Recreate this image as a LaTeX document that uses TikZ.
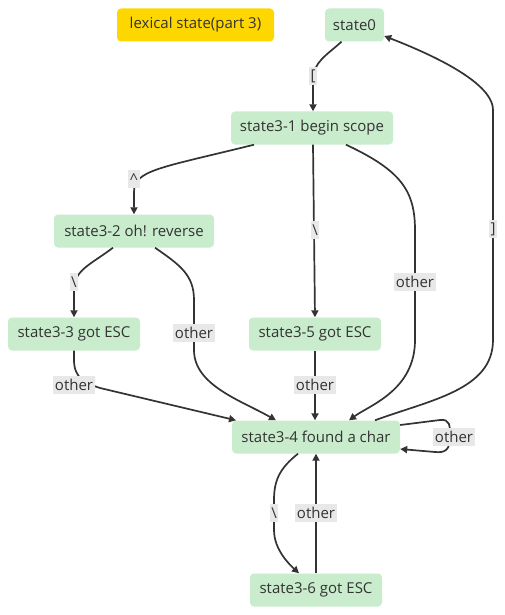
\documentclass[tikz,border=0pt]{standalone}
\usepackage{fontspec}
\setmainfont{Open Sans}
\usetikzlibrary{arrows.meta}
\definecolor{txt}{HTML}{333333}
\definecolor{stfill}{RGB}{200,236,204}
\definecolor{lblfill}{HTML}{E8E8E8}
\definecolor{legendfill}{HTML}{FFD700}

\begin{document}
\begin{tikzpicture}[x=1pt,y=-1pt,
  stbox/.style={fill=stfill, rounded corners=4pt, minimum height=33pt, inner xsep=0pt, text=txt, font=\fontsize{15}{18}\selectfont},
  lbl/.style={fill=lblfill, inner xsep=1.5pt, inner ysep=0pt, minimum height=18pt, text=txt, font=\fontsize{15}{18}\selectfont},
  trans/.style={draw=txt, line width=1.7pt, -{Triangle[length=7pt,width=7pt]}}]
  \useasboundingbox (0,0) rectangle (505,615);
  % states
  \node[stbox, fill=legendfill, minimum width=157pt] (legend) at (195.5,25) {lexical state(part 3)};
  \node[stbox, minimum width=59pt] (s0) at (354.5,25) {state0};
  \node[stbox, minimum width=162pt] (s31) at (312,128) {state3-1 begin scope};
  \node[stbox, minimum width=160pt] (s32) at (134,231) {state3-2 oh! reverse};
  \node[stbox, minimum width=132pt] (s33) at (74,334) {state3-3 got ESC};
  \node[stbox, minimum width=132pt] (s35) at (315,334) {state3-5 got ESC};
  \node[stbox, minimum width=168pt] (s34) at (316,437) {state3-4 found a char};
  \node[stbox, minimum width=132pt] (s36) at (316,590) {state3-6 got ESC};
  % transitions
  \draw[trans] ([xshift=-13pt]s0.south) .. controls (327,55) and (313,62) .. (313,80) -- ([xshift=1pt]s31.north);
  \draw[trans] ([xshift=-58pt]s31.south) .. controls (160,168) and (134,170) .. (134,192) -- (s32.north);
  \draw[trans] ([xshift=1pt]s31.south) -- (s35.north);
  \draw[trans] ([xshift=34pt]s31.south) .. controls (400,170) and (415,190) .. (415,230) -- (415,340) .. controls (415,390) and (370,405) .. ([xshift=33pt]s34.north);
  \draw[trans] ([xshift=59pt]s34.north) .. controls (430,400) and (493,390) .. (493,340) -- (493,110) .. controls (493,80) and (420,50) .. ([yshift=-11pt]s0.east);
  \draw[trans] ([xshift=-21pt]s32.south) .. controls (90,265) and (74,270) .. (74,290) -- (s33.north);
  \draw[trans] ([xshift=21pt]s32.south) .. controls (180,265) and (194,275) .. (194,300) -- (194,350) .. controls (194,385) and (240,400) .. ([xshift=-40pt]s34.north);
  \draw[trans] (s33.south) -- (74,360) .. controls (74,378) and (85,383) .. (100,388) -- ([xshift=-80pt]s34.north);
  \draw[trans] (s35.south) -- ([xshift=-1pt]s34.north);
  \draw[trans] ([yshift=12pt]s34.east) -- (440,420) .. controls (450,419) and (450,425) .. (450,437) .. controls (450,450) and (445,453) .. (435,452) -- ([yshift=-12pt]s34.east);
  \draw[trans] ([xshift=-18pt]s34.south) .. controls (280,468) and (274,480) .. (274,500) -- (274,530) .. controls (274,550) and (290,565) .. ([xshift=-17pt]s36.north);
  \draw[trans] (s36.north) -- (s34.south);
  % labels
  \node[lbl] (l1) at (313,76) {[};
  \node[lbl] (l2) at (134,179) {\textasciicircum};
  \node[lbl] (l3) at (315,230) {\textbackslash};
  \node[lbl] (l4) at (415,282) {other};
  \node[lbl] (l5) at (493,229) {]};
  \node[lbl] (l6) at (74,282) {\textbackslash};
  \node[lbl] (l7) at (194,333) {other};
  \node[lbl] (l8) at (74,385) {other};
  \node[lbl] (l9) at (315,385) {other};
  \node[lbl] (l10) at (454,437) {other};
  \node[lbl] (l11) at (274,513) {\textbackslash};
  \node[lbl] (l12) at (316,513) {other};
\end{tikzpicture}
\end{document}
